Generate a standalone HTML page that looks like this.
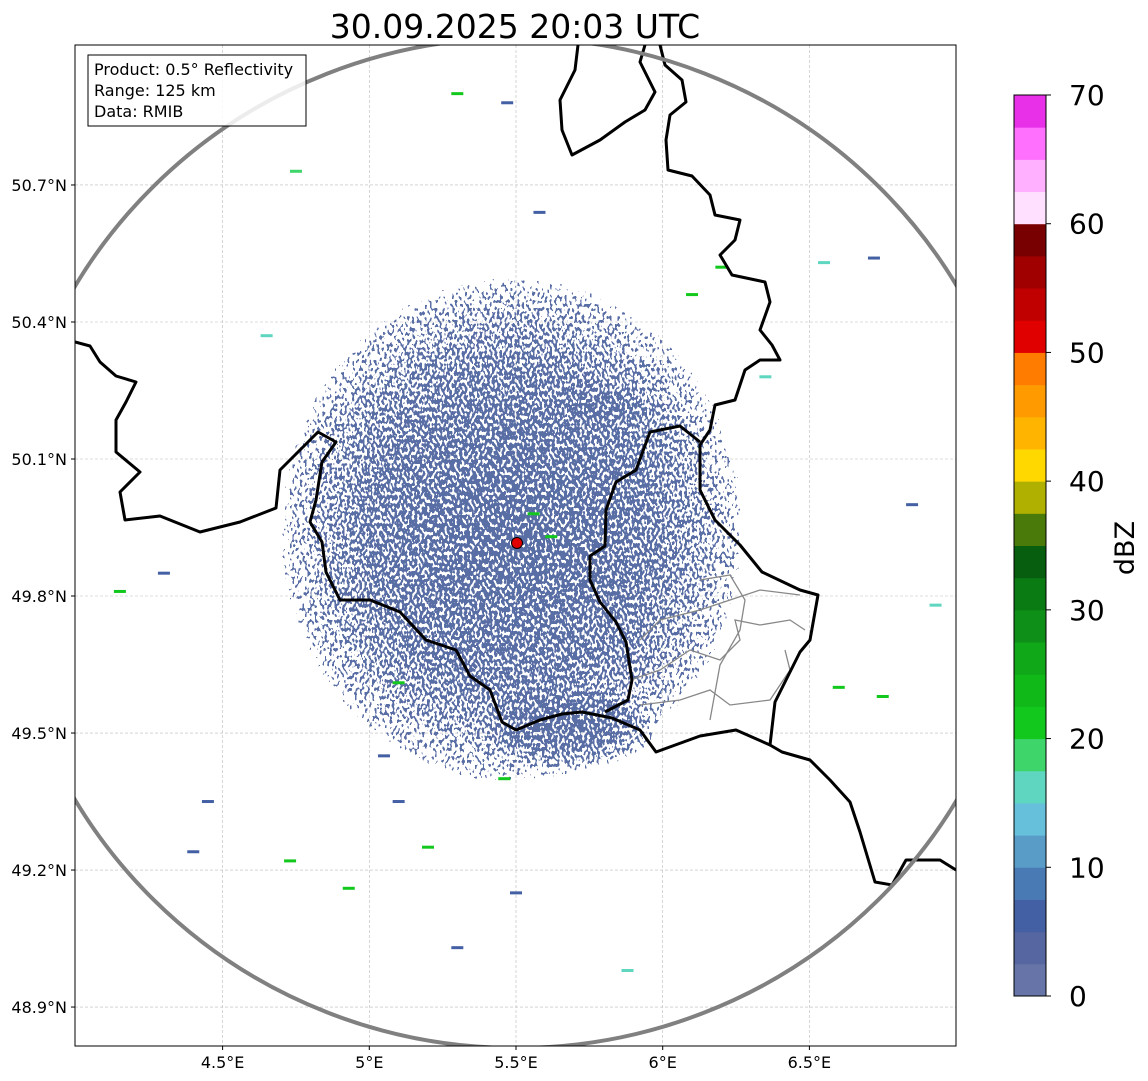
<!DOCTYPE html>
<html><head><meta charset="utf-8"><style>
body{margin:0;background:#fff;}
svg{display:block;font-family:"DejaVu Sans","Liberation Sans",sans-serif;}
</style></head><body>
<svg id="c" width="1148" height="1081" viewBox="0 0 1148 1081">
<defs>
<clipPath id="plotclip"><rect x="75" y="45" width="881" height="1001"/></clipPath>
<radialGradient id="dens" cx="0.5" cy="0.5" r="0.5">
<stop offset="0" stop-color="#000" stop-opacity="0.95"/>
<stop offset="0.5" stop-color="#000" stop-opacity="0.85"/>
<stop offset="0.8" stop-color="#000" stop-opacity="0.62"/>
<stop offset="1" stop-color="#000" stop-opacity="0"/>
</radialGradient>
<filter id="speck" x="0" y="0" width="1" height="1">
<feTurbulence type="fractalNoise" baseFrequency="0.4 0.25" numOctaves="1" seed="7" result="n"/>
<feColorMatrix in="n" type="matrix" values="0 0 0 0 0 0 0 0 0 0 0 0 0 0 0 1.8 0 0 0 -0.25" result="na"/>
<feComposite in="na" in2="SourceGraphic" operator="arithmetic" k1="1" k2="0" k3="0" k4="0" result="m"/>
<feComponentTransfer in="m" result="th"><feFuncA type="discrete" tableValues="0 0 0 0 1 1 1 1"/></feComponentTransfer>
<feFlood flood-color="#5a6ea6"/>
<feComposite in2="th" operator="in"/>
</filter>
</defs>
<text x="515" y="38" text-anchor="middle" font-size="33" fill="#000">30.09.2025 20:03 UTC</text>
<g id="grid"></g>
<g clip-path="url(#plotclip)">
<ellipse cx="512" cy="530" rx="275" ry="300" fill="url(#dens)" filter="url(#speck)"/>
<ellipse cx="560" cy="720" rx="120" ry="60" fill="url(#dens)" filter="url(#speck)"/>
<ellipse cx="600" cy="410" rx="80" ry="35" fill="url(#dens)" filter="url(#speck)"/>
<g id="blips"></g>
<polyline fill="none" stroke="#888" stroke-width="1.3" points="640,640 660,620 700,610 730,600 760,590 800,595"/>
<polyline fill="none" stroke="#888" stroke-width="1.3" points="630,680 660,670 690,650 720,660 740,640 735,620 760,625 790,620 805,630"/>
<polyline fill="none" stroke="#888" stroke-width="1.3" points="640,705 680,700 710,690 730,705 770,700 790,670 785,650"/>
<polyline fill="none" stroke="#888" stroke-width="1.3" points="700,580 730,575 745,600 740,630 720,665 710,720"/>
<polyline fill="none" stroke="#000" stroke-width="3" stroke-linejoin="round" points="578,45 575,70 560,100 562,130 572,155 600,140 625,122 645,110 655,92 640,62 645,45"/>
<polyline fill="none" stroke="#000" stroke-width="3" stroke-linejoin="round" points="660,45 665,65 682,80 686,102 670,115 666,140 668,170 692,176 710,195 715,215 740,220 735,240 720,255 732,275 765,282 770,302 760,330 772,345 780,360 760,360 745,370 735,400 715,405 710,430 700,445 700,490 715,520 740,545 762,572 800,590 818,595 810,640 800,652 790,672 775,702 770,745 782,752 810,760 830,780 850,802 860,832 875,882 892,885 906,860 940,860 956,870"/>
<polyline fill="none" stroke="#000" stroke-width="3" stroke-linejoin="round" points="75,342 90,346 100,362 116,376 136,382 126,402 116,420 116,452 140,472 120,492 125,520 160,516 200,532 240,522 276,508 280,470 300,450 318,432 336,442 322,462 316,500 310,522 322,542 326,572 340,600 370,600 400,612 426,640 456,650 470,676 490,690 502,722 516,730 540,720 562,714 582,712 612,718 640,730 656,752 700,736 736,730 770,745"/>
<polyline fill="none" stroke="#000" stroke-width="3" stroke-linejoin="round" points="605,712 628,700 632,680 626,642 616,622 600,602 590,580 590,556 605,546 606,510 616,482 636,470 650,432 680,426 700,442"/>
<ellipse cx="516" cy="543" rx="512" ry="505" fill="none" stroke="#808080" stroke-width="4"/>
<circle cx="517" cy="543" r="5.5" fill="#e00000" stroke="#000" stroke-width="1"/>
</g>
<rect x="75" y="45" width="881" height="1001" fill="none" stroke="#000" stroke-width="1"/>
<g id="ticks"></g>
<g>
<rect x="88" y="55" width="218" height="71" fill="#fff" fill-opacity="0.85" stroke="#000" stroke-width="1"/>
<text x="94" y="75" font-size="16">Product: 0.5° Reflectivity</text>
<text x="94" y="96" font-size="16">Range: 125 km</text>
<text x="94" y="117" font-size="16">Data: RMIB</text>
</g>
<g id="cbar"></g>
<text transform="translate(1134,548) rotate(-90)" text-anchor="middle" font-size="27">dBZ</text>
</svg>
<script>
const lonTicks=[4.5,5,5.5,6,6.5];
const lonLabels=["4.5°E","5°E","5.5°E","6°E","6.5°E"];
const latTicks=[48.9,49.2,49.5,49.8,50.1,50.4,50.7];
const latLabels=["48.9°N","49.2°N","49.5°N","49.8°N","50.1°N","50.4°N","50.7°N"];
const levels=[0,2.5,5,7.5,10,12.5,15,17.5,20,22.5,25,27.5,30,32.5,35,37.5,40,42.5,45,47.5,50,52.5,55,57.5,60,62.5,65,67.5];
const levelColors=["#6674a8","#5566a0","#4460a4","#4a7ab4","#5a9cc8","#66c0dc","#5ed6c0","#3ed66a","#12c81c","#10b818","#10a818","#0e9018","#0a7a12","#065e0e","#4a7a0a","#b0b000","#ffd800","#ffb400","#ff9a00","#ff7c00","#e00000","#c00000","#a00000","#780000","#ffe0ff","#ffb0ff","#ff70ff","#e830e8"];
const cbTicks=[0,10,20,30,40,50,60,70];
const blipLon=[4.75,5.3,5.47,5.1,4.3,4.15,4.45,4.73,5.56,5.62,4.93,5.3,5.46,5.5,4.65,5.88,6.2,6.35,6.55,6.72,6.85,6.93,6.6,5.2,5.05,4.4,5.58,6.1,5.1,6.75];
const blipLat=[50.73,50.9,50.88,49.35,49.85,49.81,49.35,49.22,49.98,49.93,49.16,49.03,49.4,49.15,50.37,48.98,50.52,50.28,50.53,50.54,50.0,49.78,49.6,49.25,49.45,49.24,50.64,50.46,49.61,49.58];
const blipVal=[18,22,5,5,5,22,5,20,22,20,20,5,22,5,17,17,20,17,17,5,5,15,20,22,5,5,5,20,20,22];
const X=lon=>516+(lon-5.5)*293.4;
const Y=lat=>459-(lat-50.1)*456.7;
const NS="http://www.w3.org/2000/svg";
function mk(tag,attrs,parent){const e=document.createElementNS(NS,tag);for(const k in attrs)e.setAttribute(k,attrs[k]);parent.appendChild(e);return e;}
const grid=document.getElementById('grid'),ticks=document.getElementById('ticks');
lonTicks.forEach((v,i)=>{
 const l=mk('line',{x1:X(v),x2:X(v),y1:45,y2:1046,stroke:'#bbb','stroke-width':0.6,'stroke-dasharray':'3,2'},grid);
 
 
 mk('line',{x1:X(v),x2:X(v),y1:1046,y2:1050,stroke:'#000'},ticks);
 const t=mk('text',{x:X(v),y:1068,'text-anchor':'middle','font-size':16},ticks);t.textContent=lonLabels[i];
 
 
});
latTicks.forEach((v,i)=>{
 const l=mk('line',{x1:75,x2:956,y1:Y(v),y2:Y(v),stroke:'#bbb','stroke-width':0.6,'stroke-dasharray':'3,2'},grid);
 
 
 mk('line',{x1:71,x2:75,y1:Y(v),y2:Y(v),stroke:'#000'},ticks);
 const t=mk('text',{x:67,y:Y(v)+6,'text-anchor':'end','font-size':16},ticks);t.textContent=latLabels[i];
 
 
});
function colorFor(v){let c=levelColors[0];levels.forEach((l,i)=>{if(v>=l)c=levelColors[i];});return c;}
const blips=document.getElementById('blips');
blipLon.forEach((lo,i)=>{
 const r=mk('rect',{x:X(lo)-6,y:Y(blipLat[i])-1.5,width:12,height:3,fill:colorFor(blipVal[i])},blips);
 
 
});
const cb=document.getElementById('cbar');
const CB=v=>996-v*(901/70);
levels.forEach((l,i)=>{
 const hi=i<levels.length-1?levels[i+1]:70;
 const r=mk('rect',{x:1014,y:CB(hi),width:32,height:CB(l)-CB(hi)+0.5,fill:levelColors[i]},cb);
 
 
});
mk('rect',{x:1014,y:95,width:32,height:901,fill:'none',stroke:'#000','stroke-width':1},cb);
cbTicks.forEach(v=>{
 mk('line',{x1:1046,x2:1051,y1:CB(v),y2:CB(v),stroke:'#000'},cb);
 const t=mk('text',{x:1069,y:CB(v)+10,'font-size':28},cb);t.textContent=v;
 
 
});
</script>
</body></html>
